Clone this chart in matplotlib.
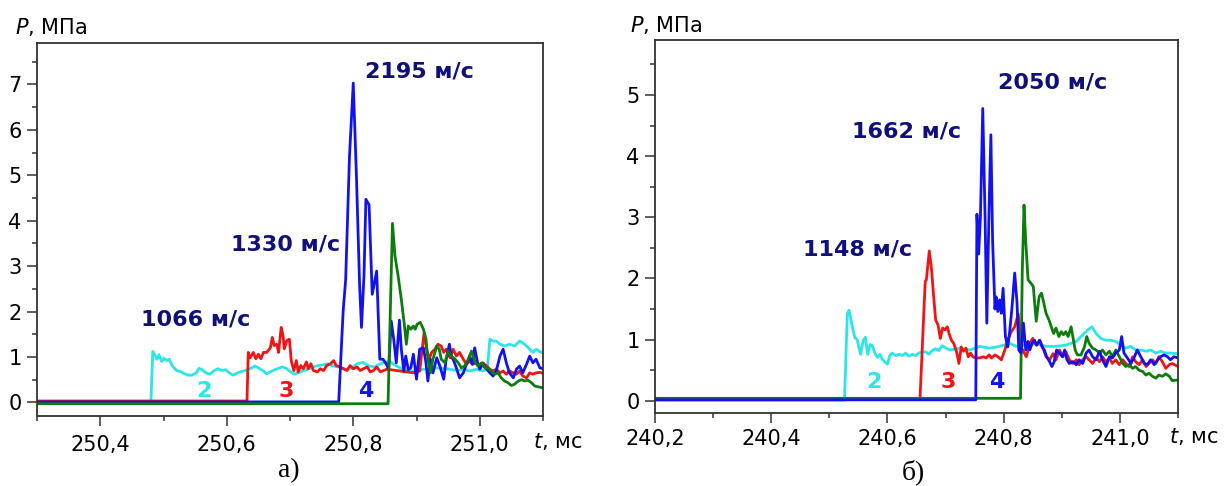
import matplotlib
matplotlib.use("Agg")
import matplotlib.pyplot as plt
from matplotlib.ticker import MultipleLocator, FuncFormatter

# ---- panel a): pressure P (MPa) vs time t (ms), gauges 2, 3, 4 and the last one
a_cyan = [(250.30, 0.0), (250.480, 0.0), (250.483, 1.12), (250.490, 0.95), (250.493, 1.05),
          (250.497, 0.90), (250.501, 0.97), (250.505, 0.92), (250.509, 0.95), (250.514, 0.80),
          (250.521, 0.70), (250.527, 0.68), (250.533, 0.63), (250.539, 0.60), (250.545, 0.60),
          (250.552, 0.65), (250.556, 0.75), (250.561, 0.72), (250.567, 0.65), (250.573, 0.62),
          (250.580, 0.70), (250.586, 0.74), (250.592, 0.70), (250.598, 0.72), (250.604, 0.65),
          (250.610, 0.60), (250.617, 0.65), (250.623, 0.68), (250.629, 0.70), (250.638, 0.75),
          (250.645, 0.80), (250.651, 0.75), (250.657, 0.70), (250.663, 0.63), (250.670, 0.68),
          (250.676, 0.72), (250.682, 0.75), (250.688, 0.78), (250.694, 0.75), (250.700, 0.68),
          (250.707, 0.62), (250.713, 0.65), (250.722, 0.70), (250.732, 0.75), (250.741, 0.80),
          (250.750, 0.82), (250.760, 0.85), (250.768, 0.80), (250.778, 0.78), (250.787, 0.72),
          (250.797, 0.75), (250.806, 0.85), (250.815, 0.88), (250.825, 0.80), (250.834, 0.78),
          (250.843, 0.85), (250.847, 0.87), (250.858, 0.90), (250.868, 0.80), (250.879, 0.73),
          (250.889, 0.69), (250.900, 0.69), (250.911, 0.73), (250.921, 0.73), (250.932, 0.76),
          (250.942, 0.75), (250.953, 0.73), (250.963, 0.70), (250.974, 0.73), (250.984, 0.69),
          (250.995, 0.73), (251.005, 0.69), (251.012, 0.73), (251.016, 1.39), (251.021, 1.35),
          (251.026, 1.35), (251.032, 1.28), (251.039, 1.24), (251.047, 1.28), (251.055, 1.24),
          (251.063, 1.35), (251.071, 1.28), (251.079, 1.17), (251.084, 1.10), (251.089, 1.17),
          (251.095, 1.12), (251.100, 1.08)]

a_red = [(250.30, 0.03), (250.632, 0.03), (250.634, 1.10), (250.637, 0.98), (250.642, 1.10),
         (250.646, 0.96), (250.650, 1.06), (250.654, 0.96), (250.658, 1.10), (250.663, 1.10),
         (250.669, 1.20), (250.672, 1.43), (250.675, 1.25), (250.679, 1.28), (250.682, 1.10),
         (250.686, 1.65), (250.689, 1.47), (250.691, 1.18), (250.695, 1.36), (250.699, 1.39),
         (250.702, 0.92), (250.706, 0.70), (250.710, 0.92), (250.713, 0.67), (250.717, 0.81),
         (250.721, 0.74), (250.726, 0.89), (250.729, 0.74), (250.733, 0.85), (250.737, 0.70),
         (250.743, 0.67), (250.748, 0.74), (250.753, 0.70), (250.758, 0.81), (250.764, 0.85),
         (250.769, 0.92), (250.773, 0.81), (250.779, 0.78), (250.785, 0.74), (250.790, 0.70),
         (250.795, 0.81), (250.800, 0.74), (250.806, 0.78), (250.811, 0.70), (250.816, 0.74),
         (250.822, 0.78), (250.827, 0.67), (250.832, 0.70), (250.837, 0.78), (250.843, 0.67),
         (250.848, 0.70), (250.853, 0.73), (250.874, 0.69), (250.895, 0.65), (250.905, 0.69),
         (250.912, 1.53), (250.916, 1.17), (250.920, 0.95), (250.924, 1.10), (250.929, 1.17),
         (250.934, 1.28), (250.939, 1.24), (250.943, 1.10), (250.947, 1.17), (250.953, 0.98),
         (250.958, 1.17), (250.963, 1.02), (250.968, 1.10), (250.974, 0.95), (250.979, 0.84),
         (250.984, 0.91), (250.989, 0.84), (250.995, 0.87), (251.000, 0.76), (251.005, 0.87),
         (251.011, 0.80), (251.016, 0.73), (251.021, 0.69), (251.026, 0.73), (251.032, 0.65),
         (251.037, 0.69), (251.042, 0.62), (251.047, 0.69), (251.053, 0.65), (251.058, 0.62),
         (251.063, 0.69), (251.068, 0.58), (251.074, 0.54), (251.079, 0.65), (251.084, 0.62),
         (251.089, 0.65), (251.095, 0.66), (251.100, 0.64)]

a_blue = [(250.30, 0.01), (250.777, 0.01), (250.784, 2.0), (250.788, 2.7), (250.794, 5.4),
          (250.800, 7.03), (250.805, 5.0), (250.810, 2.6), (250.813, 1.65), (250.817, 2.8),
          (250.820, 4.47), (250.825, 4.35), (250.830, 2.38), (250.837, 2.89), (250.842, 0.95),
          (250.847, 0.95), (250.852, 0.85), (250.856, 0.73), (250.860, 1.79), (250.864, 1.39),
          (250.868, 0.87), (250.873, 1.81), (250.876, 1.17), (250.880, 0.69), (250.883, 1.02),
          (250.887, 0.72), (250.891, 0.76), (250.895, 1.06), (250.900, 0.51), (250.905, 1.17),
          (250.911, 1.20), (250.915, 0.87), (250.918, 0.47), (250.922, 0.95), (250.926, 0.65),
          (250.932, 0.98), (250.937, 0.80), (250.943, 0.51), (250.947, 0.95), (250.952, 1.28),
          (250.955, 1.02), (250.959, 0.91), (250.963, 0.76), (250.968, 0.54), (250.974, 0.65),
          (250.979, 0.84), (250.984, 1.02), (250.988, 0.84), (250.992, 1.20), (250.996, 0.91),
          (251.000, 0.73), (251.005, 0.84), (251.011, 0.73), (251.016, 0.65), (251.021, 0.58),
          (251.026, 0.69), (251.032, 1.02), (251.037, 1.17), (251.042, 0.87), (251.047, 0.65),
          (251.053, 0.54), (251.058, 0.73), (251.063, 0.80), (251.068, 0.65), (251.074, 0.84),
          (251.079, 1.02), (251.084, 0.87), (251.089, 0.95), (251.095, 0.76), (251.100, 0.74)]

a_green = [(250.30, -0.03), (250.855, -0.03), (250.862, 3.94), (250.866, 3.22), (250.871, 2.78),
           (250.876, 2.27), (250.881, 1.68), (250.884, 1.28), (250.887, 1.68), (250.891, 1.61),
           (250.895, 1.68), (250.898, 1.61), (250.901, 1.72), (250.906, 1.76), (250.911, 1.61),
           (250.915, 1.39), (250.918, 0.95), (250.922, 0.65), (250.926, 0.95), (250.932, 1.24),
           (250.936, 1.17), (250.939, 0.95), (250.945, 0.87), (250.950, 1.13), (250.955, 1.02),
           (250.961, 0.95), (250.966, 0.87), (250.971, 0.76), (250.976, 0.80), (250.982, 0.95),
           (250.987, 1.13), (250.992, 0.91), (250.997, 0.80), (251.003, 0.87), (251.008, 0.76),
           (251.013, 0.76), (251.018, 0.69), (251.024, 0.62), (251.029, 0.65), (251.034, 0.54),
           (251.039, 0.47), (251.045, 0.43), (251.050, 0.37), (251.055, 0.40), (251.061, 0.47),
           (251.066, 0.50), (251.071, 0.47), (251.076, 0.49), (251.082, 0.43), (251.087, 0.36),
           (251.093, 0.34), (251.100, 0.32)]

# ---- panel б)
b_cyan = [(240.20, 0.01), (240.526, 0.01), (240.531, 1.43), (240.534, 1.48), (240.540, 1.19),
          (240.544, 1.03), (240.548, 1.00), (240.551, 0.87), (240.554, 0.76), (240.558, 0.98),
          (240.562, 1.04), (240.566, 0.76), (240.570, 0.92), (240.574, 0.90), (240.579, 0.76),
          (240.583, 0.71), (240.587, 0.76), (240.591, 0.68), (240.596, 0.63), (240.600, 0.60),
          (240.604, 0.74), (240.608, 0.78), (240.614, 0.74), (240.620, 0.76), (240.626, 0.74),
          (240.631, 0.78), (240.637, 0.73), (240.643, 0.76), (240.649, 0.74), (240.654, 0.78),
          (240.660, 0.80), (240.666, 0.80), (240.671, 0.76), (240.677, 0.82), (240.683, 0.85),
          (240.688, 0.82), (240.694, 0.90), (240.707, 0.83), (240.725, 0.86), (240.742, 0.83),
          (240.759, 0.89), (240.776, 0.86), (240.793, 0.89), (240.810, 0.94), (240.822, 0.89),
          (240.839, 0.91), (240.856, 0.94), (240.873, 0.89), (240.890, 0.89), (240.907, 0.91),
          (240.925, 0.97), (240.936, 1.08), (240.945, 1.16), (240.952, 1.21), (240.959, 1.10),
          (240.967, 1.02), (240.976, 0.99), (240.984, 0.99), (240.993, 0.97), (241.002, 0.91),
          (241.010, 0.86), (241.019, 0.89), (241.027, 0.83), (241.036, 0.83), (241.045, 0.81),
          (241.053, 0.83), (241.062, 0.78), (241.070, 0.81), (241.079, 0.78), (241.087, 0.78),
          (241.100, 0.77)]

b_red = [(240.20, 0.03), (240.656, 0.03), (240.665, 1.95), (240.667, 1.98), (240.672, 2.45),
         (240.676, 2.14), (240.679, 1.76), (240.683, 1.32), (240.687, 1.24), (240.691, 1.02),
         (240.695, 1.19), (240.699, 1.16), (240.703, 1.21), (240.706, 1.10), (240.710, 0.99),
         (240.714, 0.94), (240.719, 0.80), (240.723, 0.61), (240.727, 0.88), (240.731, 0.81),
         (240.735, 0.86), (240.739, 0.72), (240.743, 0.78), (240.747, 0.72), (240.753, 0.70),
         (240.759, 0.70), (240.765, 0.72), (240.770, 0.70), (240.775, 0.75), (240.779, 0.70),
         (240.785, 0.75), (240.790, 0.72), (240.796, 0.67), (240.802, 0.83), (240.807, 0.99),
         (240.813, 1.13), (240.819, 1.21), (240.825, 1.42), (240.830, 0.88), (240.839, 0.72),
         (240.845, 0.94), (240.850, 1.02), (240.856, 0.91), (240.862, 0.99), (240.867, 0.88),
         (240.873, 0.72), (240.879, 0.67), (240.885, 0.77), (240.890, 0.67), (240.896, 0.83),
         (240.902, 0.72), (240.907, 0.80), (240.913, 0.67), (240.919, 0.61), (240.925, 0.67),
         (240.930, 0.59), (240.936, 0.67), (240.942, 0.72), (240.947, 0.67), (240.953, 0.61),
         (240.959, 0.70), (240.965, 0.64), (240.970, 0.72), (240.976, 0.64), (240.982, 0.70),
         (240.987, 0.61), (240.993, 0.67), (240.999, 0.59), (241.005, 0.67), (241.010, 0.61),
         (241.016, 0.56), (241.022, 0.72), (241.027, 0.64), (241.033, 0.59), (241.039, 0.67),
         (241.045, 0.56), (241.050, 0.61), (241.056, 0.67), (241.062, 0.61), (241.067, 0.72),
         (241.073, 0.64), (241.079, 0.53), (241.085, 0.59), (241.090, 0.61), (241.100, 0.56)]

b_blue = [(240.20, 0.015), (240.752, 0.015), (240.754, 3.05), (240.757, 2.40), (240.760, 3.00),
          (240.764, 4.78), (240.768, 3.00), (240.771, 1.27), (240.775, 3.20), (240.778, 4.35),
          (240.781, 2.60), (240.785, 1.50), (240.787, 1.70), (240.790, 1.46), (240.793, 1.65),
          (240.796, 1.43), (240.799, 1.84), (240.803, 1.05), (240.807, 0.88), (240.810, 1.10),
          (240.814, 1.49), (240.819, 2.09), (240.823, 1.60), (240.826, 0.83), (240.830, 0.78),
          (240.834, 1.27), (240.838, 0.83), (240.842, 0.97), (240.845, 0.83), (240.849, 0.94),
          (240.853, 0.99), (240.857, 0.91), (240.862, 0.99), (240.866, 0.88), (240.870, 0.83),
          (240.874, 0.72), (240.879, 0.64), (240.883, 0.56), (240.887, 0.64), (240.891, 0.83),
          (240.896, 0.78), (240.901, 0.72), (240.905, 0.83), (240.909, 0.67), (240.913, 0.61),
          (240.919, 0.64), (240.925, 0.59), (240.930, 0.67), (240.936, 0.61), (240.942, 0.78),
          (240.947, 0.83), (240.953, 0.72), (240.959, 0.67), (240.965, 0.81), (240.970, 0.67),
          (240.976, 0.56), (240.982, 0.72), (240.987, 0.70), (240.993, 0.78), (240.999, 0.83),
          (241.003, 1.05), (241.007, 0.78), (241.013, 0.70), (241.019, 0.61), (241.025, 0.72),
          (241.030, 0.83), (241.036, 0.72), (241.042, 0.61), (241.047, 0.59), (241.053, 0.67),
          (241.059, 0.59), (241.065, 0.67), (241.070, 0.72), (241.076, 0.75), (241.082, 0.72),
          (241.087, 0.67), (241.093, 0.72), (241.100, 0.70)]

b_green = [(240.20, 0.04), (240.829, 0.04), (240.832, 2.10), (240.835, 3.20), (240.838, 2.60),
           (240.842, 1.98), (240.847, 1.92), (240.851, 1.87), (240.856, 1.30), (240.861, 1.70),
           (240.865, 1.76), (240.869, 1.60), (240.873, 1.43), (240.878, 1.32), (240.882, 1.21),
           (240.886, 1.10), (240.890, 1.19), (240.895, 1.05), (240.899, 1.13), (240.903, 1.08),
           (240.907, 1.13), (240.911, 1.05), (240.916, 1.21), (240.919, 1.05), (240.923, 0.83),
           (240.927, 0.75), (240.933, 0.75), (240.939, 0.88), (240.943, 1.05), (240.947, 0.94),
           (240.953, 0.86), (240.959, 0.83), (240.965, 0.78), (240.970, 0.83), (240.976, 0.75),
           (240.982, 0.81), (240.987, 0.72), (240.993, 0.83), (240.999, 0.72), (241.005, 0.61),
           (241.010, 0.56), (241.016, 0.59), (241.022, 0.53), (241.027, 0.56), (241.033, 0.50),
           (241.039, 0.48), (241.045, 0.42), (241.050, 0.45), (241.056, 0.40), (241.062, 0.37),
           (241.067, 0.42), (241.073, 0.40), (241.079, 0.44), (241.085, 0.40), (241.090, 0.33),
           (241.100, 0.34)]

# velocity labels: (text, t, P)
a_speeds = [("2195 м/с", 250.819, 7.29), ("1330 м/с", 250.607, 3.48), ("1066 м/с", 250.465, 1.83)]
b_speeds = [("2050 м/с", 240.791, 5.20), ("1662 м/с", 240.539, 4.41), ("1148 м/с", 240.455, 2.47)]
# gauge numbers: (text, t, P)
a_gauges = [("2", 250.564, 0.24), ("3", 250.694, 0.24), ("4", 250.820, 0.24)]
b_gauges = [("2", 240.577, 0.31), ("3", 240.704, 0.31), ("4", 240.788, 0.31)]

CYAN = "#2be6e6"
RED = "#f01414"
BLUE = "#1212f0"
GREEN = "#0c7d0c"
NAVY = "#10107a"
SPINE = "#333333"

plt.rcParams["font.family"] = ["DejaVu Sans"]
plt.rcParams["mathtext.fontset"] = "dejavusans"

fig = plt.figure(figsize=(12.28, 4.86), dpi=100)
ax_a = fig.add_axes([37 / 1228, 1 - 416 / 486, 506 / 1228, 372.5 / 486])
ax_b = fig.add_axes([655 / 1228, 1 - 413 / 486, 523 / 1228, 373 / 486])


def comma(v, pos):
    return f"{v:.1f}".replace(".", ",")


def draw_panel(ax, series, speeds, gauges, xlim, ylim, xmaj, ymax_tick, xpad):
    for pts, col in series:
        ax.plot([p[0] for p in pts], [p[1] for p in pts], color=col, lw=2.0,
                solid_joinstyle="round")
    ax.set_xlim(*xlim)
    ax.set_ylim(*ylim)
    ax.set_xticks(xmaj)
    ax.xaxis.set_minor_locator(MultipleLocator(0.1))
    ax.xaxis.set_major_formatter(FuncFormatter(comma))
    ax.set_yticks(range(0, ymax_tick + 1))
    ax.yaxis.set_minor_locator(MultipleLocator(0.5))
    ax.tick_params(which="both", direction="out", color=SPINE, width=1.1,
                   labelsize=15, top=False, right=False)
    ax.tick_params(axis="x", which="major", length=7, pad=xpad)
    ax.tick_params(axis="y", which="major", length=7, pad=4)
    ax.tick_params(which="minor", length=3.5)
    for sp in ax.spines.values():
        sp.set_color(SPINE)
        sp.set_linewidth(1.3)
    for txt, t, p in speeds:
        ax.text(t, p, txt, color=NAVY, fontsize=16, fontweight="bold",
                ha="left", va="center")
    for (txt, t, p), col in zip(gauges, [CYAN, RED, BLUE]):
        ax.text(t, p, txt, color=col, fontsize=16, fontweight="bold",
                ha="center", va="center")


draw_panel(ax_a, [(a_cyan, CYAN), (a_red, RED), (a_blue, BLUE), (a_green, GREEN)],
           a_speeds, a_gauges, (250.3, 251.1), (-0.3, 7.9),
           [250.4, 250.6, 250.8, 251.0], 7, 7)
draw_panel(ax_b, [(b_cyan, CYAN), (b_red, RED), (b_green, GREEN), (b_blue, BLUE)],
           b_speeds, b_gauges, (240.2, 241.1), (-0.2, 5.9),
           [240.2, 240.4, 240.6, 240.8, 241.0], 5, 4.5)

# axis captions
fig.text(15 / 1228, 1 - 34 / 486, r"$P$, МПа", fontsize=15, va="baseline", ha="left")
fig.text(630 / 1228, 1 - 32 / 486, r"$P$, МПа", fontsize=15, va="baseline", ha="left")
fig.text(533 / 1228, 1 - 441 / 486, r"$t$, мс", fontsize=15, va="center", ha="left")
fig.text(1169 / 1228, 1 - 436 / 486, r"$t$, мс", fontsize=15, va="center", ha="left")
fig.text(289 / 1228, 1 - 471 / 486, "а)", fontsize=20, family="Liberation Serif",
         va="center", ha="center")
fig.text(913 / 1228, 1 - 472 / 486, "б)", fontsize=20, family="Liberation Serif",
         va="center", ha="center")

fig.savefig("out.png", dpi=100)
